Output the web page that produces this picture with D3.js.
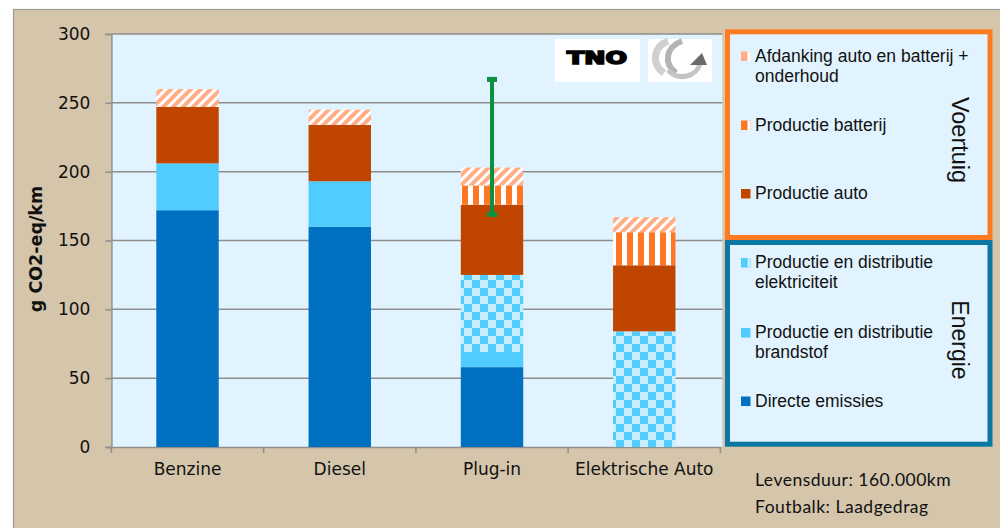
<!DOCTYPE html>
<html><head><meta charset="utf-8">
<script src="https://cdn.jsdelivr.net/npm/d3@7"></script>
<style>body{margin:0;background:#fff}svg{display:block}</style>
</head><body><svg id="c" width="1000" height="528"></svg>
<script>
// ---- data ----
const categories = ["Benzine", "Diesel", "Plug-in", "Elektrische Auto"];
const directeEmissies = [172, 160, 58, 0];
const productieBrandstof = [34, 33, 11, 0];
const productieElektriciteit = [0, 0, 56, 84];
const productieAuto = [41, 41, 51, 48];
const productieBatterij = [0, 0, 14, 24];
const afdankingOnderhoud = [13, 11, 13, 11];
const errorCategory = "Plug-in";
const errorLow = 169;
const errorHigh = 267;
const yTicks = [0, 50, 100, 150, 200, 250, 300];
const voertuigLegend = [
  { key: "afdanking", lines: ["Afdanking auto en batterij +", "onderhoud"] },
  { key: "batterij", lines: ["Productie batterij"] },
  { key: "auto", lines: ["Productie auto"] }
];
const energieLegend = [
  { key: "elektriciteit", lines: ["Productie en distributie", "elektriciteit"] },
  { key: "brandstof", lines: ["Productie en distributie", "brandstof"] },
  { key: "directe", lines: ["Directe emissies"] }
];
const notes = ["Levensduur: 160.000km", "Foutbalk: Laadgedrag"];

// ---- build ----
const keys = ["directe", "brandstof", "elektriciteit", "auto", "batterij", "afdanking"];
const table = categories.map((c, i) => ({
  cat: c, directe: directeEmissies[i], brandstof: productieBrandstof[i],
  elektriciteit: productieElektriciteit[i], auto: productieAuto[i],
  batterij: productieBatterij[i], afdanking: afdankingOnderhoud[i]
}));
const stacked = d3.stack().keys(keys)(table);

const svg = d3.select("#c");
const defs = svg.append("defs");

// patterns
const chk = defs.append("pattern").attr("id", "p-elek").attr("patternUnits", "userSpaceOnUse")
  .attr("width", 16).attr("height", 16);
chk.append("rect").attr("width", 16).attr("height", 16).attr("fill", "#c6eeff");
chk.append("rect").attr("width", 8).attr("height", 8).attr("fill", "#50ccff");
chk.append("rect").attr("x", 8).attr("y", 8).attr("width", 8).attr("height", 8).attr("fill", "#50ccff");

const bat = defs.append("pattern").attr("id", "p-bat").attr("patternUnits", "userSpaceOnUse")
  .attr("width", 11).attr("height", 11);
bat.append("rect").attr("width", 11).attr("height", 11).attr("fill", "#ffffff");
bat.append("rect").attr("width", 6).attr("height", 11).attr("fill", "#ff7722");

const afd = defs.append("pattern").attr("id", "p-afd").attr("patternUnits", "userSpaceOnUse")
  .attr("width", 7).attr("height", 7).attr("patternTransform", "rotate(45)");
afd.append("rect").attr("width", 7).attr("height", 7).attr("fill", "#ffffff");
afd.append("rect").attr("width", 4).attr("height", 7).attr("fill", "#ffae88");

const fills = {
  directe: "#0070c0", brandstof: "#50ccff", elektriciteit: "url(#p-elek)",
  auto: "#c04600", batterij: "url(#p-bat)", afdanking: "url(#p-afd)"
};
const swatchFills = {
  directe: "#0070c0", brandstof: "#50ccff", elektriciteit: "#50ccff",
  auto: "#c04600", batterij: "#ff7722", afdanking: "#ffae88"
};

// background
svg.append("rect").attr("x", 0).attr("y", 0).attr("width", 1000).attr("height", 528).attr("fill", "#ffffff");
svg.append("rect").attr("x", 13.5).attr("y", 9.5).attr("width", 1000).attr("height", 530)
  .attr("fill", "#d4c5ab").attr("stroke", "#9a9a9a").attr("stroke-width", 1.2);

const plotL = 111.4, plotR = 720.4, plotT = 34, plotB = 447;
svg.append("rect").attr("x", plotL).attr("y", plotT).attr("width", plotR - plotL + 2).attr("height", plotB - plotT)
  .attr("fill", "#e1f3fe");

const x = d3.scaleBand().domain(categories).range([plotL, plotR]).padding(0);
const y = d3.scaleLinear().domain([0, 300]).range([plotB, plotT]);
const barW = x.bandwidth() * 0.41;

// gridlines
svg.append("g").selectAll("line").data(yTicks.filter(t => t > 0)).join("line")
  .attr("x1", plotL).attr("x2", plotR + 2).attr("y1", d => y(d)).attr("y2", d => y(d))
  .attr("stroke", "#8e8e8e").attr("stroke-width", 1.5);

// y axis
const yAxis = svg.append("g").attr("transform", `translate(${plotL},0)`)
  .call(d3.axisLeft(y).tickValues(yTicks).tickSize(6).tickPadding(15));
yAxis.select(".domain").attr("stroke", "#8e8e8e").attr("stroke-width", 1.5);
yAxis.selectAll(".tick line").attr("stroke", "#8e8e8e").attr("stroke-width", 1.5);
yAxis.selectAll(".tick text").attr("font-family", "DejaVu Sans").attr("font-size", 17).attr("fill", "#111");

// x axis
const xAxis = svg.append("g").attr("transform", `translate(0,${plotB})`)
  .call(d3.axisBottom(x).tickSize(0).tickPadding(16));
xAxis.select(".domain").attr("stroke", "#8e8e8e").attr("stroke-width", 1.5);
xAxis.selectAll(".tick text").attr("font-family", "DejaVu Sans").attr("font-size", 17).attr("fill", "#111");
const bounds = categories.map(c => x(c)).concat([x(categories[categories.length - 1]) + x.bandwidth()]);
svg.append("g").selectAll("line").data(bounds).join("line")
  .attr("x1", d => d).attr("x2", d => d).attr("y1", plotB).attr("y2", plotB + 6)
  .attr("stroke", "#8e8e8e").attr("stroke-width", 1.5);

// bars
svg.append("g").selectAll("g").data(stacked).join("g")
  .attr("fill", d => fills[d.key])
  .selectAll("rect").data(d => d).join("rect")
  .attr("x", d => x(d.data.cat) + (x.bandwidth() - barW) / 2)
  .attr("width", barW)
  .attr("y", d => y(d[1]))
  .attr("height", d => y(d[0]) - y(d[1]));

// error bar
const ex = x(errorCategory) + x.bandwidth() / 2;
const eg = svg.append("g");
eg.append("line").attr("x1", ex).attr("x2", ex).attr("y1", y(errorLow)).attr("y2", y(errorHigh))
  .attr("stroke", "#0a9040").attr("stroke-width", 4);
[errorLow, errorHigh].forEach(v => {
  eg.append("rect").attr("x", ex - 5).attr("y", y(v) - 2.5).attr("width", 10).attr("height", 5).attr("fill", "#0a9040");
});

// y title
svg.append("text").attr("transform", "translate(42,249) rotate(-90)")
  .attr("text-anchor", "middle").attr("font-family", "DejaVu Sans").attr("font-weight", "bold")
  .attr("font-size", 17.5).attr("fill", "#111").text("g CO2-eq/km");

// logos
svg.append("rect").attr("x", 555).attr("y", 39).attr("width", 85).attr("height", 43).attr("fill", "#fff");
svg.append("text").attr("x", 567).attr("y", 64).attr("font-family", "DejaVu Sans").attr("font-weight", "bold")
  .attr("font-size", 17).attr("textLength", 60).attr("lengthAdjust", "spacingAndGlyphs")
  .attr("fill", "#000").attr("stroke", "#000").attr("stroke-width", 1.6).text("TNO");
svg.append("rect").attr("x", 648).attr("y", 39).attr("width", 64).attr("height", 43).attr("fill", "#fff");
const lg = svg.append("g").attr("fill", "none");
lg.append("path").attr("d", "M664,73 C651,64 653,47 668,41").attr("stroke", "#d0d0d0").attr("stroke-width", 7);
lg.append("path").attr("d", "M676,73 C663,63 666,47 682,41").attr("stroke", "#b4b4b4").attr("stroke-width", 6);
lg.append("path").attr("d", "M668,70 C678,82 697,76 700,64").attr("stroke", "#c4c4c4").attr("stroke-width", 5);
svg.append("path").attr("d", "M690,65 L707,65 L702,53 Z").attr("fill", "#6a6a6a");

// legend boxes
svg.append("rect").attr("x", 727.5).attr("y", 31.8).attr("width", 262.5).attr("height", 205.7)
  .attr("fill", "#e1f3fe").attr("stroke", "#ff7b22").attr("stroke-width", 5);
svg.append("rect").attr("x", 727.5).attr("y", 242.5).attr("width", 262.5).attr("height", 201.7)
  .attr("fill", "#e1f3fe").attr("stroke", "#0b78a3").attr("stroke-width", 5);

function drawLegend(items, baselines) {
  items.forEach((it, i) => {
    const b = baselines[i];
    svg.append("rect").attr("x", 741).attr("y", b - 10).attr("width", 9.5).attr("height", 9.5).attr("fill", swatchFills[it.key]);
    if (it.key !== "directe" && it.key !== "brandstof" && it.key !== "auto") {
      svg.append("rect").attr("x", 747.5).attr("y", b - 10).attr("width", 3).attr("height", 9.5)
        .attr("fill", it.key === "elektriciteit" ? "#c6eeff" : "#ffffff");
    }
    it.lines.forEach((ln, j) => {
      svg.append("text").attr("x", 755).attr("y", b + j * 20).attr("font-family", "Liberation Sans")
        .attr("font-size", 17.5).attr("fill", "#111").text(ln);
    });
  });
}
drawLegend(voertuigLegend, [61.5, 130.5, 199]);
drawLegend(energieLegend, [268, 338, 406.5]);

svg.append("text").attr("transform", "translate(951.5,140) rotate(90)").attr("text-anchor", "middle")
  .attr("font-family", "Liberation Sans").attr("font-size", 23.5).attr("fill", "#111").text("Voertuig");
svg.append("text").attr("transform", "translate(952,340) rotate(90)").attr("text-anchor", "middle")
  .attr("font-family", "Liberation Sans").attr("font-size", 23).attr("fill", "#111").text("Energie");

// notes
notes.forEach((n, i) => {
  svg.append("text").attr("x", 755).attr("y", 486 + i * 27).attr("font-family", "Lato")
    .attr("font-size", 17.5).attr("letter-spacing", 0.5).attr("fill", "#111").text(n);
});
</script></body></html>
